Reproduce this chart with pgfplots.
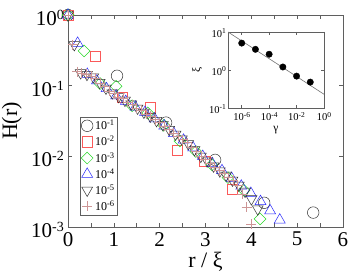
\documentclass[border=0pt]{standalone}
\usepackage{fontspec}
\setmainfont{Liberation Serif}
\usepackage{pgfplots}
\pgfplotsset{compat=1.18}
\definecolor{plusc}{RGB}{205,150,150}
\definecolor{sqc}{RGB}{250,90,90}
\definecolor{dmc}{RGB}{40,215,40}
\definecolor{bluc}{RGB}{40,40,250}
\definecolor{frm}{RGB}{95,95,95}
\newcommand{\tp}[1]{10\raisebox{6pt}{\fontsize{14}{14}\selectfont #1}}
\newcommand{\ts}[1]{10\raisebox{3.8pt}{\fontsize{7.5}{7.5}\selectfont #1}}
\newcommand{\tl}[1]{10\raisebox{4pt}{\fontsize{8.5}{8.5}\selectfont #1}}
\begin{document}
\begin{tikzpicture}[x=1pt,y=1pt]
\path[use as bounding box] (0,0) rectangle (351,278);
\begin{axis}[
  at={(68pt,51pt)}, anchor=south west,
  scale only axis, width=275pt, height=212pt,
  xmin=0, xmax=6, ymode=log, ymin=1e-3, ymax=1,
  xtick={0,1,2,3,4,5,6}, xticklabels={0,1,2,3,4,5,6},
  minor x tick num=1,
  ytick={1e-3,1e-2,1e-1,1}, yticklabels={\tp{-3},\tp{-2},\tp{-1},\tp{0}},
  yminorticks=false,
  tick align=inside, major tick length=4pt, minor tick length=4pt,
  axis line style={frm, line width=0.6pt}, tick style={frm, line width=0.6pt},
  ticklabel style={font=\fontsize{21}{21}\selectfont, inner sep=0pt},
  xticklabel style={anchor=north, yshift=-5pt},
  yticklabel style={anchor=east, xshift=-4pt, yshift=-3pt},
  xlabel={r / ξ}, ylabel={H(r)},
  label style={font=\fontsize{22}{22}\selectfont, inner sep=0pt},
  xlabel style={at={(axis description cs:0.5,-0.189)}, anchor=base},
  ylabel style={at={(axis description cs:-0.185,0.5)}, anchor=base, rotate=0},
  clip=false,
  legend style={at={(axis description cs:0.0436,0.519)}, anchor=north west,
    font=\fontsize{12}{12}\selectfont, draw=frm, line width=0.5pt,
    inner sep=1pt, row sep=1pt, nodes={inner sep=2pt}},
  legend cell align=left,
  every axis plot/.append style={only marks, line width=0.5pt},
]
\addplot[mark=o, mark size=5.8pt, black!80] coordinates {
(0,1) (1.07,0.138) (2.14,0.030) (3.21,0.0089) (4.28,0.0022) (5.35,0.0016)};
\addlegendentry{\tl{-1}}
\addplot[mark=square, mark size=5.2pt, sqc] coordinates {
(0,1) (0.60,0.26) (1.19,0.069) (1.79,0.049) (2.38,0.0123) (2.98,0.0085) (3.58,0.0034)};
\addlegendentry{\tl{-2}}
\addplot[mark=square, mark options={rotate=45}, mark size=4.2pt, dmc] coordinates {
(0,1) (0.35,0.31) (0.70,0.107) (1.05,0.098) (1.40,0.052) (1.74,0.041) (2.09,0.0275)
(2.44,0.0165) (2.79,0.0117) (3.14,0.0076) (3.49,0.0050) (3.84,0.0033) (4.19,0.0013)};
\addlegendentry{\tl{-3}}
\addplot[mark=triangle, mark size=6.3pt, bluc] coordinates {
(0,1) (0.21,0.40) (0.42,0.145) (0.63,0.117) (0.84,0.091) (1.05,0.072) (1.26,0.060)
(1.47,0.050) (1.68,0.042) (1.89,0.034) (2.10,0.027) (2.31,0.021) (2.52,0.017)
(2.73,0.0132) (2.94,0.0100) (3.15,0.0079) (3.36,0.0063) (3.57,0.0049) (3.78,0.0038)
(3.99,0.0030) (4.20,0.0023) (4.41,0.0017) (4.62,0.00126)};
\addlegendentry{\tl{-4}}
\addplot[mark=triangle, mark options={rotate=180}, mark size=6.3pt, black!80] coordinates {
(0,1) (0.138,0.38) (0.276,0.152) (0.414,0.144) (0.552,0.133) (0.69,0.111) (0.828,0.092)
(0.966,0.079) (1.104,0.070) (1.242,0.062) (1.38,0.055) (1.518,0.048) (1.656,0.042)
(1.794,0.037) (1.932,0.032) (2.07,0.028) (2.208,0.024) (2.346,0.0205) (2.484,0.0176)
(2.622,0.0151) (2.76,0.0124) (2.898,0.0100) (3.036,0.0086) (3.174,0.0073) (3.312,0.0062)
(3.45,0.0054) (3.588,0.0046) (3.726,0.0039) (3.864,0.0032) (4.002,0.0025) (4.14,0.0018)};
\addlegendentry{\tl{-5}}
\addplot[mark=+, mark size=5pt, plusc] coordinates {
(0,1) (0.1,0.38) (0.2,0.158) (0.3,0.150) (0.4,0.146) (0.5,0.136) (0.6,0.127) (0.7,0.108)
(0.8,0.097) (0.9,0.083) (1.0,0.077) (1.1,0.069) (1.2,0.066) (1.3,0.058) (1.4,0.054)
(1.5,0.048) (1.6,0.045) (1.7,0.040) (1.8,0.037) (1.9,0.033) (2.0,0.030) (2.1,0.027)
(2.2,0.024) (2.3,0.0215) (2.4,0.0195) (2.5,0.0172) (2.6,0.0156) (2.7,0.0134) (2.8,0.0118)
(2.9,0.0101) (3.0,0.0090) (3.1,0.0079) (3.2,0.0071) (3.3,0.0063) (3.4,0.0057) (3.5,0.0050)
(3.6,0.0046) (3.7,0.0039) (3.8,0.0029) (3.9,0.0019) (4.0,0.0011)};
\addlegendentry{\tl{-6}}
\end{axis}
\begin{axis}[
  at={(228pt,170pt)}, anchor=south west,
  scale only axis, width=96pt, height=76pt,
  xmode=log, ymode=log, xmin=1e-7, xmax=1, ymin=0.1, ymax=10,
  xtick={1e-6,1e-4,1e-2,1}, xticklabels={\ts{-6},\ts{-4},\ts{-2},\ts{0}},
  ytick={0.1,1,10}, yticklabels={\ts{-1},\ts{0},\ts{1}},
  xminorticks=false, yminorticks=false,
  tick align=inside, major tick length=3pt,
  axis line style={frm, line width=0.5pt}, tick style={frm, line width=0.5pt},
  axis background/.style={fill=white},
  ticklabel style={font=\fontsize{10.5}{10.5}\selectfont, inner sep=0pt},
  xticklabel style={anchor=north, yshift=-4pt},
  yticklabel style={anchor=east, xshift=-2pt, yshift=-1pt},
  xlabel={γ}, ylabel={ξ},
  label style={font=\fontsize{11.5}{11.5}\selectfont, inner sep=0pt},
  xlabel style={at={(axis description cs:0.5,-0.305)}, anchor=base},
  ylabel style={at={(axis description cs:-0.29,0.5)}, anchor=base},
]
\addplot[black!55, line width=0.6pt, mark=none] coordinates {(1e-7,10) (1,0.23)};
\addplot[only marks, mark=*, mark size=3.2pt, black] coordinates {
(1e-6,5.1) (1e-5,3.5) (1e-4,2.6) (1e-3,1.2) (1e-2,0.69) (1e-1,0.48)};
\end{axis}
\end{tikzpicture}
\end{document}
